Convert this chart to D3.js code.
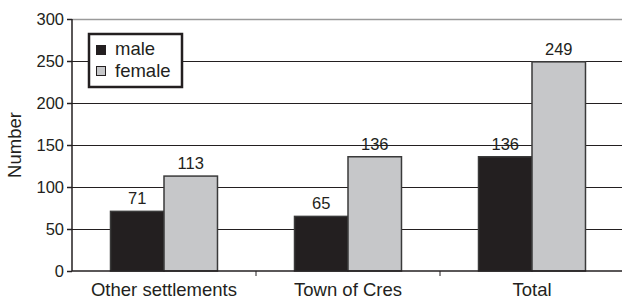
<!DOCTYPE html>
<html>
<head>
<meta charset="utf-8">
<script src="https://cdn.jsdelivr.net/npm/d3@7"></script>
<style>
  body { margin: 0; background: #fff; }
  svg text { font-family: "Liberation Sans", Arial, Helvetica, sans-serif !important; fill: #231f20; }
</style>
</head>
<body>
<div id="chart"></div>
<script>
// data
const categories = ["Other settlements", "Town of Cres", "Total"];
const series = ["male", "female"];
const male = [71, 65, 136];
const female = [113, 136, 249];
const yTicks = [0, 50, 100, 150, 200, 250, 300];

const width = 622, height = 300;
const margin = { top: 19, right: 5, bottom: 29, left: 72 };
const colors = { male: "#231f20", female: "#c6c7c9" };
const numSize = "16.5px";
const textSize = "18.5px";

let svg = d3.select("#chart")
  .append("svg")
  .attr("width", width)
  .attr("height", height);

let yScale = d3.scaleLinear()
  .domain([0, 300])
  .range([height - margin.bottom, margin.top]);

let xScale = d3.scaleBand()
  .domain(categories)
  .range([margin.left, margin.left + 3 * 184]);

let xInner = d3.scaleBand()
  .domain(series)
  .range([0, xScale.bandwidth()])
  .paddingInner(0)
  .paddingOuter(0.72);

// gridlines
svg.append("g")
  .selectAll("line")
  .data(yTicks.filter(d => d > 0))
  .enter()
  .append("line")
    .attr("x1", margin.left)
    .attr("x2", width)
    .attr("y1", d => Math.round(yScale(d)) + 0.5)
    .attr("y2", d => Math.round(yScale(d)) + 0.5)
    .attr("stroke", d => d === 300 ? "#9a9a9a" : "#231f20")
    .attr("stroke-width", d => d === 300 ? 1.5 : 1.2);

// bars
const rows = categories.map((c, i) => ({ cat: c, values: [
  { key: "male", value: male[i] },
  { key: "female", value: female[i] }
]}));

let groups = svg.selectAll(".group")
  .data(rows)
  .enter()
  .append("g")
    .attr("class", "group")
    .attr("transform", d => `translate(${xScale(d.cat)},0)`);

groups.selectAll("rect")
  .data(d => d.values)
  .enter()
  .append("rect")
    .attr("x", d => xInner(d.key))
    .attr("y", d => yScale(d.value))
    .attr("width", xInner.bandwidth())
    .attr("height", d => yScale(0) - yScale(d.value))
    .attr("fill", d => colors[d.key])
    .attr("stroke", "#3a3a3a")
    .attr("stroke-width", 1.5);

groups.selectAll(".lbl")
  .data(d => d.values)
  .enter()
  .append("text")
    .attr("class", "lbl")
    .attr("x", d => xInner(d.key) + xInner.bandwidth() / 2)
    .attr("y", d => yScale(d.value) - 7)
    .attr("text-anchor", "middle")
    .attr("font-size", numSize)
    .text(d => d.value);

// y axis
let yAxis = svg.append("g")
  .attr("transform", `translate(${margin.left},0)`)
  .call(d3.axisLeft(yScale).tickValues(yTicks).tickSize(5).tickPadding(3));
yAxis.attr("font-size", null).attr("font-family", null);
yAxis.selectAll("text").attr("font-size", numSize).attr("fill", "#231f20");
yAxis.selectAll("line, path").attr("stroke", "#231f20").attr("stroke-width", 1.5);
yAxis.select(".domain").attr("d", `M0,${yScale(0)}V${yScale(300)}`);

// x axis
let xAxis = svg.append("g")
  .attr("transform", `translate(0,${yScale(0)})`);
xAxis.append("line")
  .attr("x1", margin.left).attr("x2", width)
  .attr("stroke", "#231f20").attr("stroke-width", 1.5);
xAxis.selectAll(".tk")
  .data(categories.slice(1))
  .enter()
  .append("line")
    .attr("x1", d => xScale(d)).attr("x2", d => xScale(d))
    .attr("y1", 0).attr("y2", 5)
    .attr("stroke", "#231f20").attr("stroke-width", 1);
xAxis.selectAll(".cl")
  .data(categories)
  .enter()
  .append("text")
    .attr("x", d => xScale(d) + xScale.bandwidth() / 2)
    .attr("y", 25)
    .attr("text-anchor", "middle")
    .attr("font-size", textSize)
    .text(d => d);

// y title
svg.append("text")
  .attr("transform", "translate(21,145) rotate(-90)")
  .attr("text-anchor", "middle")
  .attr("font-size", textSize)
  .text("Number");

// legend
let legend = svg.append("g").attr("transform", "translate(89,34)");
legend.append("rect")
  .attr("width", 93).attr("height", 53)
  .attr("fill", "#fff").attr("stroke", "#231f20").attr("stroke-width", 2.5);
series.forEach((s, i) => {
  legend.append("rect")
    .attr("x", 7.5).attr("y", 11.5 + i * 21)
    .attr("width", 9).attr("height", 9)
    .attr("fill", colors[s]).attr("stroke", "#231f20").attr("stroke-width", 1);
  legend.append("text")
    .attr("x", 26).attr("y", 21 + i * 22)
    .attr("font-size", textSize)
    .text(s);
});
</script>
</body>
</html>
